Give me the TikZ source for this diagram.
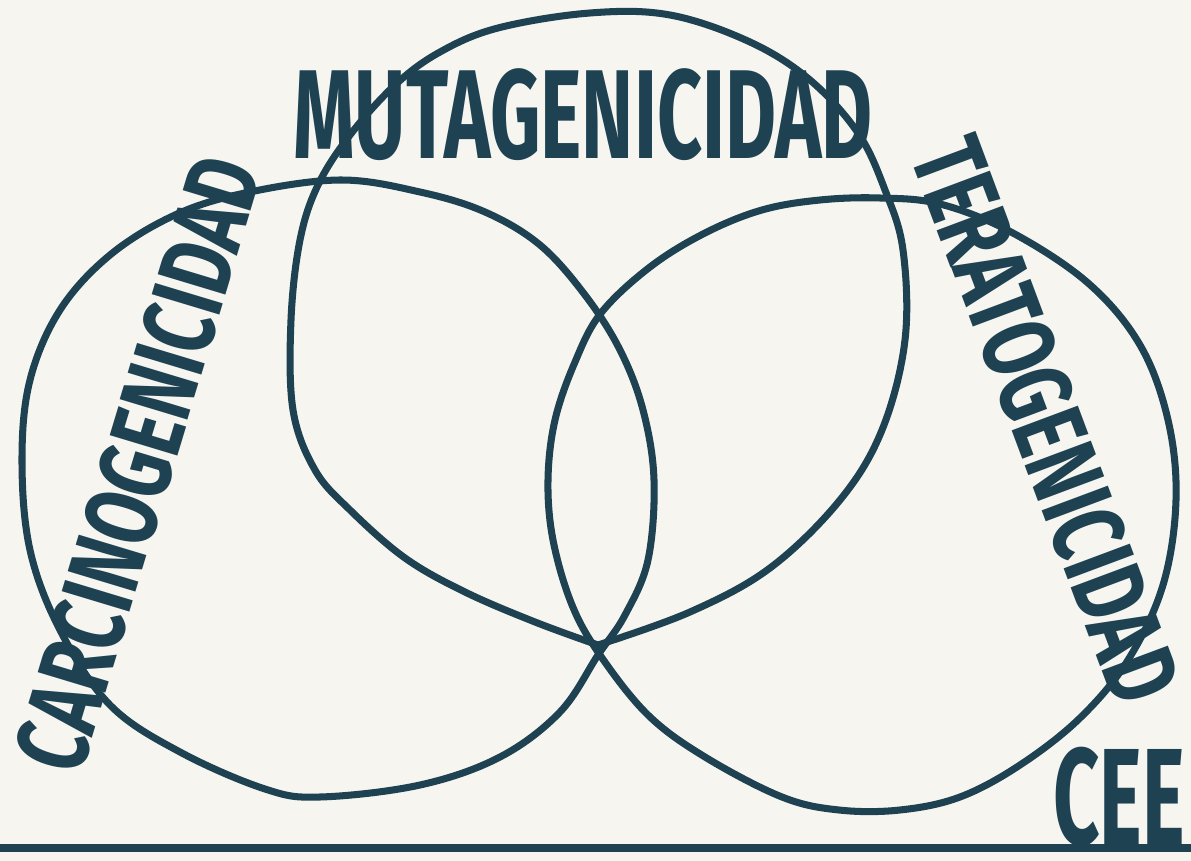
\documentclass[tikz,border=0pt]{standalone}
\usepackage{fontspec}
\newfontfamily\rotulo[FakeStretch=0.62]{Fira Sans}
\newfontfamily\rotulolargo[FakeStretch=0.70]{Fira Sans}
\newfontfamily\rotulocee[FakeStretch=0.59]{Fira Sans}
\definecolor{tinta}{RGB}{30,66,82}
\definecolor{papel}{RGB}{247,245,239}

\begin{document}
\begin{tikzpicture}[x=0.01cm,y=-0.01cm,
		conjunto/.style={draw=tinta,line width=2pt,line cap=round,line join=round},
		rotulo/.style={text=tinta,inner sep=0pt}]
	% Fondo
	\fill[papel] (0,0) rectangle (1191,861);
	\useasboundingbox (0,0) rectangle (1191,861);
	% Conjuntos del diagrama
	\draw[conjunto] plot[smooth cycle,tension=0.6] coordinates {
		(245,193) (340,180) (420,192) (485,212) (540,245) (585,295) (620,350)
		(643,410) (654,480) (648,560) (625,615) (598,655) (560,712) (500,757)
		(420,785) (320,797) (265,789) (180,752) (110,705) (60,630) (30,550)
		(22,460) (30,380) (60,310) (110,255) (175,215)};
	\draw[conjunto] plot[smooth cycle,tension=0.6] coordinates {
		(601,313) (650,267) (705,233) (762,210) (820,200) (880,198) (940,204)
		(1011,232) (1088,283) (1140,345) (1168,420) (1176,500) (1163,585)
		(1128,660) (1080,718) (1020,765) (960,797) (900,810) (839,810)
		(782,797) (705,757) (648,715) (600,655) (572,605) (553,540) (548,480)
		(555,420) (575,362)};
	\draw[conjunto] plot[smooth,tension=0.6] coordinates {
		(598,645) (690,612) (770,568) (840,500) (882,430) (905,340) (903,250)
		(885,190) (858,133) (810,80) (750,42) (670,15) (590,13) (498,28)
		(440,52) (395,85) (350,135) (318,185) (300,240) (291,320) (293,410)
		(315,470) (350,510) (405,558) (465,592) (535,622) (598,645)};
	% Rótulos
	\node[rotulo] (mut) at (583,115) {\rotulo\bfseries\fontsize{36}{36}\selectfont MUTAGENICIDAD};
	\node[rotulo,rotate=73.2] (carc) at (138,464) {\rotulolargo\bfseries\fontsize{29}{29}\selectfont CARCINOGENICIDAD};
	\node[rotulo,rotate=-69.5] (terat) at (1046,420) {\rotulolargo\bfseries\fontsize{29}{29}\selectfont TERATOGENICIDAD};
	\node[rotulo] (cee) at (1119,797) {\rotulocee\bfseries\fontsize{39}{39}\selectfont CEE};
	% Línea inferior
	\coordinate (izq) at (0,848);
	\coordinate (der) at (1191,848);
	\draw[conjunto,line width=2.5pt] (izq) -- (der);
\end{tikzpicture}
\end{document}
